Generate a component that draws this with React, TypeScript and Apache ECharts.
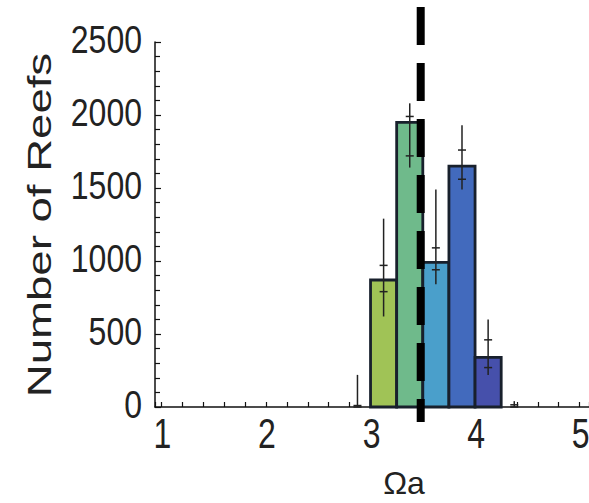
import React, { useEffect, useRef } from "react";
import * as echarts from "echarts";

// ---- data ----
const binStarts = [2.75, 3.0, 3.25, 3.5, 3.75, 4.0, 4.25];
const binWidth = 0.25;
const reefCounts = [0, 870, 1950, 990, 1650, 340, 0];
const errHigh = [220, 1290, 2080, 1490, 1930, 600, 40];
const errLow = [0, 620, 1640, 840, 1490, 220, 0];
const markUpper = [10, 970, 1990, 1090, 1760, 460, 15];
const markLower = [0, 790, 1720, 940, 1560, 270, 0];
const barColors = ["#ffffff", "#a0c356", "#6fba8b", "#4a9fcb", "#426abd", "#4650ab", "#ffffff"];
const threshold = 3.48;
const yTicks = [0, 500, 1000, 1500, 2000, 2500];
const xTicks = [1, 2, 3, 4, 5];
const xTitle = "Ωa";
const yTitle = "Number of Reefs";

const FONT = "Liberation Sans, Arial, Helvetica, sans-serif";
const TEXT = "#222222";

export default function App() {
  const ref = useRef<HTMLDivElement>(null);
  useEffect(() => {
    if (!ref.current) return;
    const chart = echarts.init(ref.current, undefined, { renderer: "svg" });
    const yMax = yTicks[yTicks.length - 1];
    const barData = binStarts.map((b, i) => [
      b,
      reefCounts[i],
      errHigh[i],
      errLow[i],
      markUpper[i],
      markLower[i],
    ]);
    chart.setOption({
      animation: false,
      backgroundColor: "#ffffff",
      grid: { left: 155, right: 0, top: 42, bottom: 96, containLabel: false },
      xAxis: {
        type: "value",
        min: 0.938,
        max: 5.09,
        minInterval: 1,
        maxInterval: 1,
        splitLine: { show: false },
        axisLine: { show: true, lineStyle: { color: "#111", width: 1.5 } },
        axisTick: { show: true, inside: true, length: 5, lineStyle: { color: "#111", width: 1.2 } },
        minorTick: { show: true, splitNumber: 5, length: 5, lineStyle: { color: "#111", width: 1.2 } },
        axisLabel: { show: false },
      },
      yAxis: {
        type: "value",
        min: 0,
        max: yMax,
        interval: 500,
        splitLine: { show: false },
        axisLine: { show: true, lineStyle: { color: "#111", width: 1.5 } },
        axisTick: { show: true, inside: true, length: 6, lineStyle: { color: "#111", width: 1.2 } },
        minorTick: { show: true, splitNumber: 5, length: 5, lineStyle: { color: "#111", width: 1.2 } },
        axisLabel: { show: false },
      },
      series: [
        {
          type: "custom",
          clip: false,
          encode: { x: 0, y: 1 },
          data: barData,
          renderItem: (params: any, api: any) => {
            const i = params.dataIndex;
            const x0 = api.value(0);
            const v = api.value(1);
            if (!(v > 0)) return { type: "group", children: [] };
            const p0 = api.coord([x0, v]);
            const p1 = api.coord([x0 + binWidth, 0]);
            return {
              type: "rect",
              shape: { x: p0[0], y: p0[1], width: p1[0] - p0[0], height: p1[1] - p0[1] },
              style: { fill: barColors[i], stroke: "#18202c", lineWidth: 2.8 },
            };
          },
        },
        {
          type: "custom",
          clip: false,
          encode: { x: 0 },
          data: [[threshold]],
          renderItem: (params: any, api: any) => {
            const x = api.value(0);
            const top = api.coord([x, yMax]);
            const bot = api.coord([x, 0]);
            return {
              type: "line",
              shape: { x1: top[0], y1: top[1] - 35, x2: bot[0], y2: bot[1] + 15 },
              style: { stroke: "#000", lineWidth: 8, lineDash: [38, 18], lineCap: "butt" },
            };
          },
        },
        {
          type: "custom",
          clip: false,
          encode: { x: 0, y: 2 },
          data: barData,
          renderItem: (params: any, api: any) => {
            const x0 = api.value(0);
            const xc = api.coord([x0 + binWidth / 2, 0])[0];
            const yh = api.coord([x0, api.value(2)])[1];
            const yl = api.coord([x0, api.value(3)])[1];
            const ya = api.coord([x0, api.value(4)])[1];
            const yb = api.coord([x0, api.value(5)])[1];
            const st = { stroke: "#222", lineWidth: 1.5 };
            return {
              type: "group",
              children: [
                { type: "line", shape: { x1: xc, y1: yh, x2: xc, y2: yl }, style: st },
                { type: "line", shape: { x1: xc - 4, y1: ya, x2: xc + 4, y2: ya }, style: st },
                { type: "line", shape: { x1: xc - 4, y1: yb, x2: xc + 4, y2: yb }, style: st },
              ],
            };
          },
        },
      ],
    });

    // tick labels placed through the axes' own scales, drawn slightly tall like the original
    const labelStyle = { fontSize: 32, fontFamily: FONT, fill: TEXT };
    const graphics: any[] = [];
    yTicks.forEach((v) => {
      const p = chart.convertToPixel({ gridIndex: 0 }, [xTicks[0], v]) as number[];
      const axisX = chart.convertToPixel({ gridIndex: 0 }, [0.938, v]) as number[];
      graphics.push({
        type: "text",
        x: axisX[0] - 13,
        y: p[1] - 2,
        scaleY: 1.22,
        style: { ...labelStyle, text: String(v), align: "right", verticalAlign: "middle" },
      });
    });
    xTicks.forEach((v) => {
      const p = chart.convertToPixel({ gridIndex: 0 }, [v, 0]) as number[];
      graphics.push({
        type: "text",
        x: p[0] + 1,
        y: p[1] + 26,
        scaleY: 1.3,
        style: { ...labelStyle, text: String(v), align: "center", verticalAlign: "middle" },
      });
    });
    graphics.push({
      type: "text",
      x: 40,
      y: 225,
      rotation: Math.PI / 2,
      scaleX: 1.34,
      style: {
        text: yTitle,
        fontSize: 34,
        fontFamily: FONT,
        fill: TEXT,
        align: "center",
        verticalAlign: "middle",
      },
    });
    graphics.push({
      type: "text",
      x: 404,
      y: 483,
      style: {
        text: xTitle,
        fontSize: 32,
        fontFamily: FONT,
        fill: TEXT,
        align: "center",
        verticalAlign: "middle",
      },
    });
    chart.setOption({ graphic: graphics });
    return () => chart.dispose();
  }, []);
  return (
    <div
      ref={ref}
      style={{ position: "absolute", left: 0, top: 0, width: 589, height: 503 }}
    />
  );
}
